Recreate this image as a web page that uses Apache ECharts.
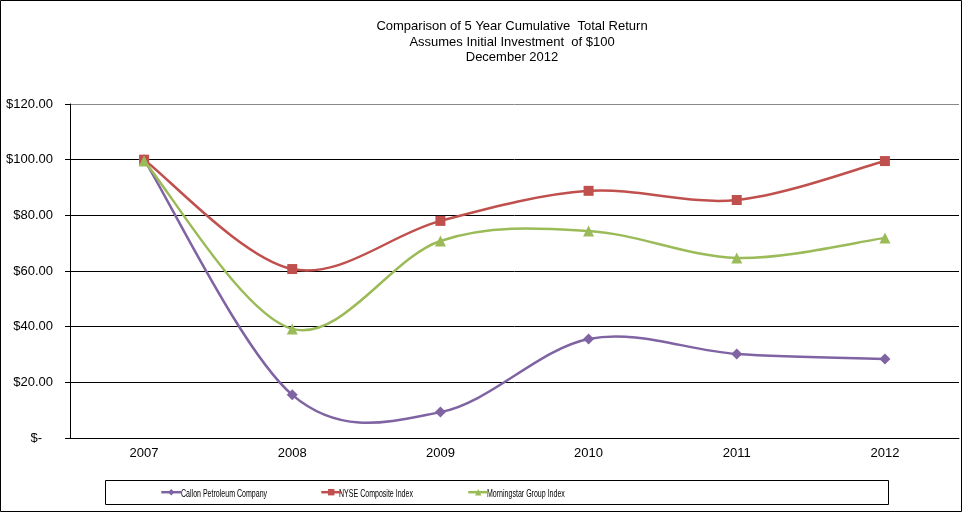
<!DOCTYPE html>
<html><head><meta charset="utf-8">
<script src="https://cdn.jsdelivr.net/npm/echarts@6/dist/echarts.min.js"></script>
<style>html,body{margin:0;padding:0;background:#fff}#c{width:963px;height:513px}</style>
</head><body><div id="c"></div>
<script>
var categories = ['2007','2008','2009','2010','2011','2012'];
var callon = [100, 15.5, 9.3, 35.6, 30.2, 28.4];
var nyse = [100, 60.7, 78.0, 88.8, 85.5, 99.5];
var morningstar = [99.5, 39.2, 70.8, 74.4, 64.7, 71.9];
var yTicks = [0, 20, 40, 60, 80, 100, 120];
var names = ['Callon Petroleum Company','NYSE Composite Index','Morningstar Group Index'];
var colors = ['#7F63A2','#C0504D','#9BBB59'];

var chart = echarts.init(document.getElementById('c'));
var font = 'Liberation Sans, Arial, sans-serif';

// Excel-like (Catmull-Rom) smoothed curve drawn via the axis scales
function curve(name, vals, color){
  var n = vals.length;
  return {type:'custom', name:name+' curve', coordinateSystem:'cartesian2d', z:2, silent:true,
    data: vals.map(function(v,i){return [i, v];}),
    renderItem:function(params, api){
      var i = params.dataIndex;
      if (i >= n-1) return null;
      function p(k){ return api.coord([k, vals[k]]); }
      var p0 = p(Math.max(i-1,0)), p1 = p(i), p2 = p(i+1), p3 = p(Math.min(i+2,n-1));
      return {type:'bezierCurve',
        shape:{x1:p1[0], y1:p1[1], x2:p2[0], y2:p2[1],
          cpx1:p1[0]+(p2[0]-p0[0])/6, cpy1:p1[1]+(p2[1]-p0[1])/6,
          cpx2:p2[0]-(p3[0]-p1[0])/6, cpy2:p2[1]-(p3[1]-p1[1])/6},
        style:{stroke:color, lineWidth:2.5, fill:null}};
    }};
}
function mk(name, data, color, symbol, size){
  return {name:name, type:'line', data:data, symbol:symbol, symbolSize:size,
    lineStyle:{color:color, width:2.5, opacity:0}, itemStyle:{color:color}, z:3};
}
var legIconLeft = [160, 320, 467];
var legTextLeft = [181, 339, 487];
function leg(i){
  return {top:489, left:legIconLeft[i], padding:0, itemWidth:20, itemHeight:8, itemGap:0,
    lineStyle:{opacity:1, width:2.5}, selectedMode:false,
    formatter:function(){return '';},
    textStyle:{fontSize:8, lineHeight:8},
    data:[names[i]]};
}
function legText(i){
  return {type:'text', x:legTextLeft[i], y:493.5, scaleX:0.64, silent:true,
    style:{text:names[i], fill:'#000', font:'11px Liberation Sans, Arial, sans-serif', verticalAlign:'middle', align:'left'}};
}
chart.setOption({
  animation:false,
  textStyle:{fontFamily:font},
  title:{text:'Comparison of 5 Year Cumulative  Total Return\nAssumes Initial Investment  of $100\nDecember 2012',
    left:507, textAlign:'center', top:14,
    textStyle:{fontSize:13, fontWeight:'normal', color:'#000', lineHeight:15.5, fontFamily:font}},
  graphic:[
    {type:'rect', shape:{x:0.5,y:0.5,width:961,height:511}, style:{fill:null, stroke:'#000', lineWidth:1}, silent:true},
    {type:'rect', shape:{x:105.5,y:480.5,width:783,height:24}, style:{fill:null, stroke:'#000', lineWidth:1}, silent:true},
    legText(0), legText(1), legText(2)
  ],
  legend:[leg(0), leg(1), leg(2)],
  grid:{left:70, right:4, top:104, bottom:75},
  xAxis:{type:'category', data:categories, boundaryGap:true,
    axisLine:{lineStyle:{color:'#000', width:1}},
    axisTick:{alignWithLabel:true, length:5, lineStyle:{color:'#000'}},
    axisLabel:{color:'#000', fontSize:13, margin:9, fontFamily:font}},
  yAxis:{type:'value', min:yTicks[0], max:yTicks[yTicks.length-1], interval:20,
    axisLine:{show:true, lineStyle:{color:'#000'}},
    axisTick:{show:true, length:5, lineStyle:{color:'#000'}},
    splitLine:{show:true, lineStyle:{color:['#000','#000','#000','#000','#000','#000','#888'], width:1}},
    axisLabel:{color:'#000', fontSize:13, margin:17, fontFamily:font,
      formatter:function(v){return v===0?'$-   ':'$'+v.toFixed(2);}}},
  series:[
    curve(names[0], callon, colors[0]),
    curve(names[1], nyse, colors[1]),
    curve(names[2], morningstar, colors[2]),
    mk(names[0], callon, colors[0], 'diamond', 11),
    mk(names[1], nyse, colors[1], 'rect', 10),
    mk(names[2], morningstar, colors[2], 'triangle', 11)
  ]
});
</script></body></html>
